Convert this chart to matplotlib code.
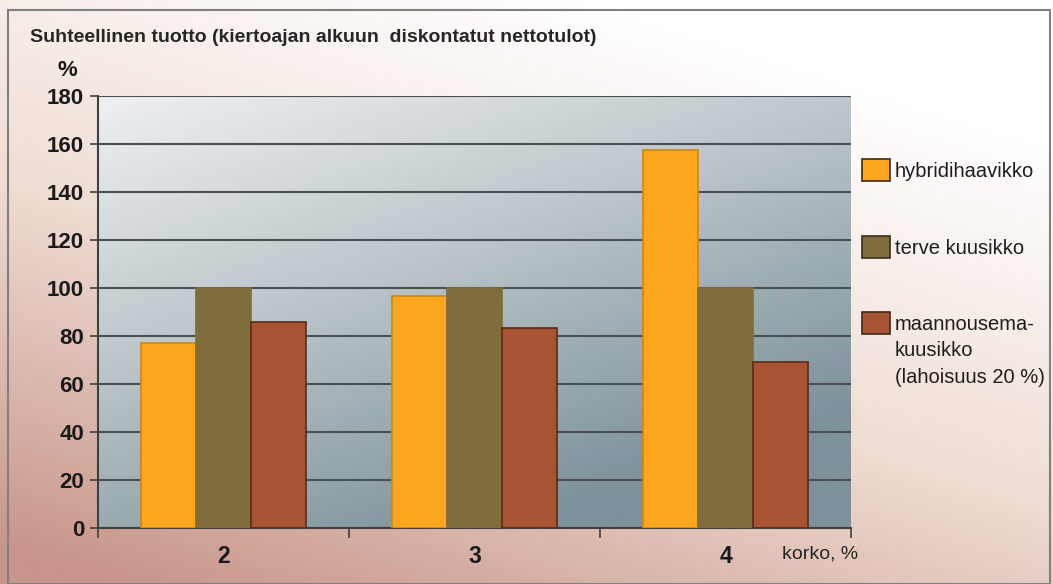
import matplotlib.pyplot as plt
import numpy as np
from matplotlib.colors import LinearSegmentedColormap
from matplotlib.patches import Rectangle

categories = ['2', '3', '4']
hybridi = [77, 96.5, 157.5]
terve = [100, 100, 100]
maannousema = [86, 83.5, 69]
series_labels = ['hybridihaavikko', 'terve kuusikko',
                 'maannousema-\nkuusikko\n(lahoisuus 20 %)']
colors = ['#fba61e', '#7f6d3b', '#a85434']
edges = ['#c98a10', '#7f6d3b', '#5a2a18']

W, H = 1053, 584
fig = plt.figure(figsize=(W / 100, H / 100), dpi=100)

# figure background gradient: white top-right, pinkish bottom-left
bg = fig.add_axes([0, 0, 1, 1], zorder=-10)
bg.set_axis_off()
yy, xx = np.mgrid[0:1:200j, 0:1:200j]
t = np.clip((1 - xx) * 0.45 + yy * 0.8 - 0.2, 0, 1)
cmap_bg = LinearSegmentedColormap.from_list('bg', ['#ffffff', '#efdcd3', '#c8968a'])
bg.imshow(t, cmap=cmap_bg, extent=[0, 1, 0, 1], origin='upper', aspect='auto')
bg.set_xlim(0, 1)
bg.set_ylim(0, 1)
bg.add_patch(Rectangle((8 / W, 0), 1042 / W, 574 / H, fill=False,
                       edgecolor='#808080', lw=1.5))

ax = fig.add_axes([98 / W, 56 / H, 753 / W, 432 / H])
x = np.arange(len(categories))
w = 0.22
# plot area gradient
g = np.clip(xx * 0.45 + yy * 0.75, 0, 1)
cmap_ax = LinearSegmentedColormap.from_list('ax', ['#eef0f2', '#b9c3c8', '#7c919a'])
ax.imshow(g, cmap=cmap_ax, extent=[-0.5, 2.5, 0, 180], origin='upper',
          aspect='auto', zorder=0)

for i, vals in enumerate([hybridi, terve, maannousema]):
    ax.bar(x + (i - 1) * w, vals, w, color=colors[i], edgecolor=edges[i],
           linewidth=1.2, zorder=3)

ax.set_xlim(-0.5, 2.5)
ax.set_ylim(0, 180)
ax.set_yticks(range(0, 181, 20))
ax.yaxis.grid(True, color='#4a4f52', lw=1.5, zorder=1)
for gl in ax.get_ygridlines():
    gl.set_zorder(1)
ax.set_xticks([-0.5, 0.5, 1.5, 2.5])
ax.set_xticklabels([])
ax.set_xticks(x, minor=True)
ax.set_xticklabels(categories, minor=True, fontsize=16.5, fontweight='bold',
                   family='Liberation Sans', color='#1a1a1a')
ax.tick_params(axis='x', which='minor', length=0, pad=12)
ax.tick_params(axis='x', which='major', length=7, width=1.2, color='#404040')
ax.tick_params(axis='y', length=6, width=1.2, color='#404040', pad=4)
for lbl in ax.get_yticklabels():
    lbl.set_fontsize(16)
    lbl.set_fontweight('bold')
    lbl.set_family('Liberation Sans')
    lbl.set_color('#1a1a1a')
for s in ['top', 'right']:
    ax.spines[s].set_visible(False)
ax.spines['left'].set_color('#404040')
ax.spines['left'].set_linewidth(1.5)
ax.spines['bottom'].set_color('#404040')
ax.spines['bottom'].set_linewidth(1.5)

fig.text(30 / W, 1 - 37 / H, 'Suhteellinen tuotto (kiertoajan alkuun  diskontatut nettotulot)',
         fontsize=14, fontweight='bold', family='Liberation Sans', color='#262626',
         va='center', ha='left')
fig.text(67 / W, 1 - 70 / H, '%', fontsize=16, fontweight='bold',
         family='Liberation Sans', color='#1a1a1a', va='center', ha='center')
fig.text(820 / W, 1 - 554 / H, 'korko, %', fontsize=14, family='Liberation Sans',
         color='#262626', va='center', ha='center')

# legend entries drawn by hand (patch + text, first line aligned with patch)
leg_top = [159, 236, 312]
for i, lab in enumerate(series_labels):
    fig.patches.append(Rectangle((862 / W, 1 - (leg_top[i] + 22) / H), 28 / W, 22 / H,
                                 facecolor=colors[i], edgecolor='#3a2a1a', lw=1.2,
                                 transform=fig.transFigure, figure=fig))
    fig.text(895 / W, 1 - (leg_top[i] + 3) / H, lab, fontsize=14.5,
             family='Liberation Sans', color='#1e1e1e', va='top', ha='left',
             linespacing=1.5)

fig.savefig('out.png', dpi=100)
